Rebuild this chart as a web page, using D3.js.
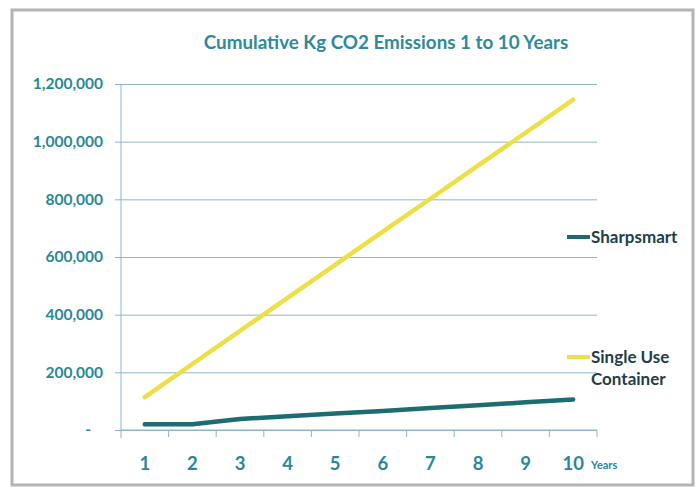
<!DOCTYPE html>
<html>
<head>
<meta charset="utf-8">
<script src="https://cdn.jsdelivr.net/npm/d3@7"></script>
<style>
  body { margin: 0; background: #fff; }
  svg { display: block; font-family: Lato, "Open Sans", sans-serif; }
</style>
</head>
<body>
<svg width="696" height="487"></svg>
<script>
// data
var years = [1, 2, 3, 4, 5, 6, 7, 8, 9, 10];
var sharpsmart = [20000, 20000, 38000, 48000, 57000, 66000, 76000, 86000, 96000, 106000];
var singleUse = [114000, 229000, 344000, 458000, 573000, 688000, 802000, 917000, 1031000, 1146000];
var yTicks = [0, 200000, 400000, 600000, 800000, 1000000, 1200000];
var seriesNames = ["Sharpsmart", ["Single Use", "Container"]];

var svg = d3.select("svg");

// outer frame
svg.append("rect")
  .attr("x", 12).attr("y", 10)
  .attr("width", 681).attr("height", 475)
  .attr("fill", "#fff")
  .attr("stroke", "#b4b4b4")
  .attr("stroke-width", 3);

var margin = { left: 121, right: 597, top: 84, bottom: 430 };

var x = d3.scaleBand()
  .domain(years)
  .range([margin.left, margin.right]);

var y = d3.scaleLinear()
  .domain([0, 1200000])
  .range([margin.bottom, margin.top]);

var gridColor = "#8fb6c6";
var labelColor = "#2a8797";

// title
svg.append("text")
  .attr("x", 386).attr("y", 49)
  .attr("text-anchor", "middle")
  .attr("font-size", 18.8)
  .attr("font-weight", "bold")
  .attr("fill", "#2e8a98")
  .text("Cumulative Kg CO2 Emissions 1 to 10 Years");

// y axis with gridlines
var yAxis = d3.axisLeft(y)
  .tickValues(yTicks)
  .tickSize(-(margin.right - margin.left))
  .tickPadding(18)
  .tickFormat(function(d) { return d === 0 ? "-" : d3.format(",")(d); });

var gY = svg.append("g")
  .attr("transform", "translate(" + margin.left + ",0)")
  .call(yAxis);
gY.select(".domain").remove();
gY.selectAll(".tick line")
  .attr("x1", -6)
  .attr("stroke", gridColor);
gY.selectAll(".tick text")
  .attr("fill", labelColor)
  .attr("font-size", 15.5)
  .attr("font-weight", "bold")
  .attr("font-family", "Lato, sans-serif");
gY.selectAll(".tick text").filter(function(d) { return d === 0; })
  .attr("dx", -12);

// left axis line
svg.append("line")
  .attr("x1", margin.left).attr("x2", margin.left)
  .attr("y1", margin.top).attr("y2", margin.bottom + 8)
  .attr("stroke", gridColor);

// x axis: ticks between categories
var gX = svg.append("g")
  .attr("transform", "translate(0," + margin.bottom + ")");
gX.append("line")
  .attr("x1", margin.left).attr("x2", margin.right)
  .attr("stroke", gridColor);
gX.selectAll("line.tk")
  .data(years)
  .enter().append("line")
  .attr("class", "tk")
  .attr("x1", function(d) { return x(d) + x.bandwidth(); })
  .attr("x2", function(d) { return x(d) + x.bandwidth(); })
  .attr("y1", 0).attr("y2", 7)
  .attr("stroke", gridColor);
gX.selectAll("text.lbl")
  .data(years)
  .enter().append("text")
  .attr("class", "lbl")
  .attr("x", function(d) { return x(d) + x.bandwidth() / 2; })
  .attr("y", 40)
  .attr("text-anchor", "middle")
  .attr("font-size", 18.5)
  .attr("font-weight", "bold")
  .attr("fill", labelColor)
  .text(function(d) { return d; });

svg.append("text")
  .attr("x", 591).attr("y", 469)
  .attr("font-size", 11)
  .attr("font-weight", "bold")
  .attr("fill", labelColor)
  .text("Years");

// lines
var line = d3.line()
  .x(function(d, i) { return x(years[i]) + x.bandwidth() / 2; })
  .y(function(d) { return y(d); });

svg.append("path")
  .datum(singleUse)
  .attr("d", line)
  .attr("fill", "none")
  .attr("stroke", "#ece046")
  .attr("stroke-width", 4.5)
  .attr("stroke-linecap", "round");

svg.append("path")
  .datum(sharpsmart)
  .attr("d", line)
  .attr("fill", "none")
  .attr("stroke", "#1b6d70")
  .attr("stroke-width", 4.5)
  .attr("stroke-linecap", "round")
  .attr("stroke-linejoin", "round");

// legend
var legendColor = "#1e3e4a";
svg.append("line")
  .attr("x1", 567).attr("x2", 590)
  .attr("y1", 237).attr("y2", 237)
  .attr("stroke", "#1b6d70").attr("stroke-width", 4);
svg.append("text")
  .attr("x", 591).attr("y", 243)
  .attr("font-size", 17).attr("font-weight", "bold")
  .attr("fill", legendColor)
  .text(seriesNames[0]);

svg.append("line")
  .attr("x1", 567).attr("x2", 590)
  .attr("y1", 357).attr("y2", 357)
  .attr("stroke", "#ece046").attr("stroke-width", 4);
svg.append("text")
  .attr("x", 591).attr("y", 363)
  .attr("font-size", 17).attr("font-weight", "bold")
  .attr("fill", legendColor)
  .selectAll("tspan")
  .data(seriesNames[1])
  .enter().append("tspan")
  .attr("x", 591)
  .attr("dy", function(d, i) { return i ? 22 : 0; })
  .text(function(d) { return d; });
</script>
</body>
</html>
